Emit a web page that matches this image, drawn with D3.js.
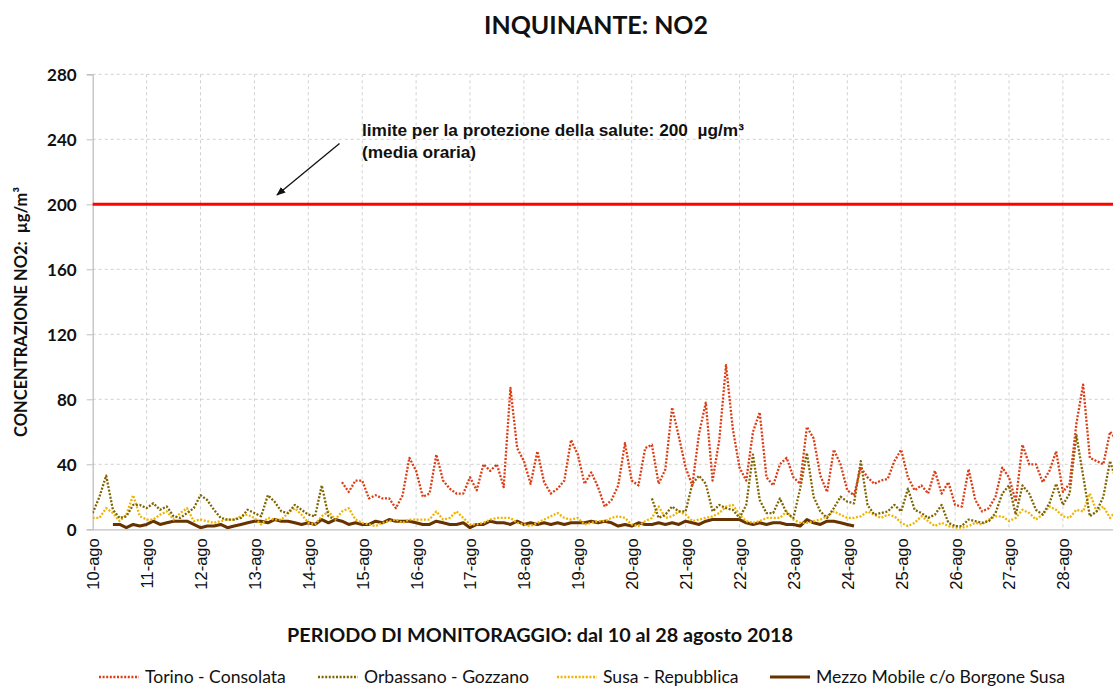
<!DOCTYPE html>
<html><head><meta charset="utf-8">
<script src="https://cdn.jsdelivr.net/npm/d3@7"></script>
<style>body{margin:0;background:#fff}svg{display:block}</style>
</head><body>
<svg id="c" width="1113" height="686"></svg>
<script>
// ---- DATA (3-hourly samples starting 10 Aug 2018 00:00; null = no data) ----
const dayLabels = ["10-ago","11-ago","12-ago","13-ago","14-ago","15-ago","16-ago","17-ago","18-ago","19-ago","20-ago","21-ago","22-ago","23-ago","24-ago","25-ago","26-ago","27-ago","28-ago"];
const yTicks = [0,40,80,120,160,200,240,280];
const seriesNames = ["Torino - Consolata","Orbassano - Gozzano","Susa - Repubblica","Mezzo Mobile c/o Borgone Susa"];
const limitValue = 200;
const torino = [
null,null,null,null,null,null,null,null,null,null,null,null,null,null,null,null,null,null,null,null,
null,null,null,null,null,null,null,null,null,null,null,null,null,null,null,null,null,
29,23,30,30,19,21,19,19,13,21,44,36,20,22,46,30,25,22,22,32,24,40,36,40,
26,87,50,42,28,48,29,22,25,30,55,46,28,35,26,14,18,27,53,30,27,50,52,28,37,75,57,38,27,59,
78,30,55,101,62,38,30,60,72,32,27,40,44,32,28,63,56,33,23,49,40,24,21,38,32,28,30,31,42,49,32,
24,27,22,36,22,29,15,14,37,18,11,13,20,38,32,17,52,40,40,29,36,48,23,28,65,89,44,42,40,60,55];
const orbassano = [
10,20,33,12,7,8,15,15,13,16,12,14,8,7,10,13,21,18,12,7,6,6,7,12,10,8,21,17,11,10,15,12,9,8,27,8,6,
null,null,null,null,null,null,null,null,null,null,null,null,null,null,null,null,null,null,null,null,null,null,null,
null,null,null,null,null,null,null,null,null,null,null,null,null,null,null,null,null,null,null,null,null,null,null,
19,7,9,14,11,11,28,33,28,11,15,13,12,7,15,46,18,10,10,19,10,7,25,47,20,11,7,13,20,17,16,42,15,9,10,11,15,11,25,
12,10,7,9,15,4,2,2,6,5,4,5,10,22,27,9,27,22,12,9,16,28,15,22,58,33,8,11,20,42,29];
const susa = [
7,7,13,10,5,9,21,8,6,6,9,11,6,10,13,5,6,5,4,5,6,6,8,9,7,3,7,6,6,10,
13,9,4,3,8,11,6,11,13,6,4,3,2,4,5,6,4,6,6,6,6,11,6,7,11,7,3,3,4,6,7,
7,7,4,3,2,4,6,8,10,7,6,7,3,4,5,5,7,8,7,3,2,5,7,14,7,8,11,9,5,6,
7,8,10,14,15,9,5,4,5,7,7,7,11,6,4,4,5,6,8,11,9,7,7,8,11,9,7,9,8,4,2,
4,8,5,2,4,2,1,1,2,4,3,6,8,8,5,7,12,10,6,9,14,12,8,7,12,11,22,11,14,7,12];
const mezzo = [
null,null,null,
3,3,1,3,2,3,5,3,4,5,5,5,3,1,2,2,3,1,2,3,4,5,5,4,6,5,5,
4,3,4,3,6,4,6,5,3,4,3,3,5,4,6,5,5,5,4,3,3,5,4,3,3,4,1,3,3,5,4,
4,3,5,3,4,3,4,3,4,3,4,4,4,5,4,5,4,2,3,2,4,3,3,4,3,4,3,5,4,3,
5,6,6,6,6,6,4,3,4,3,4,4,3,3,2,6,4,3,5,5,4,3,2];
const stepHours = 3;

// ---- LAYOUT ----
const svg = d3.select("#c");
const L = 92.7, R = 1116.8, T = 74.3, B = 529.3;
const t0 = Date.UTC(2018,7,10), t1 = Date.UTC(2018,7,29);
const x = d3.scaleUtc().domain([t0, t1]).range([L, R]);
const y = d3.scaleLinear().domain([0, 280]).range([B, T]);
const tAt = i => new Date(t0 + i*stepHours*3600e3);
const dayDates = dayLabels.map((d,i) => new Date(t0 + i*86400e3));

const labelFont = "Lato, 'Open Sans', sans-serif";
const arialFont = "'Liberation Sans', Arial, sans-serif";

function fit(sel, width){
  const n = sel.node(); const w = n.getComputedTextLength();
  const fs = parseFloat(sel.attr("font-size"));
  sel.attr("font-size", (fs*width/w).toFixed(2));
}

// grid
const g = svg.append("g");
g.selectAll(".hg").data(yTicks.filter(v=>v>0)).join("line")
  .attr("x1", L).attr("x2", R).attr("y1", d=>y(d)).attr("y2", d=>y(d))
  .attr("stroke", "#d0d0d0").attr("stroke-width", 1).attr("stroke-dasharray", "3,3");
g.selectAll(".vg").data(dayDates.slice(1).concat([new Date(t1)])).join("line")
  .attr("x1", d=>x(d)).attr("x2", d=>x(d)).attr("y1", T).attr("y2", B)
  .attr("stroke", "#d0d0d0").attr("stroke-width", 1).attr("stroke-dasharray", "3,3");

// y axis
const yAxis = d3.axisLeft(y).tickValues(yTicks).tickSize(6).tickPadding(10);
const ya = svg.append("g").attr("transform", `translate(${L},0)`).call(yAxis);
ya.select(".domain").attr("stroke", "#bfbfbf").attr("stroke-width", 1.3);
ya.selectAll(".tick line").attr("stroke", "#bfbfbf");
ya.selectAll(".tick text").attr("font-family", labelFont).attr("font-weight", "bold")
  .attr("font-size", 17).attr("fill", "#111").attr("dy", "0.36em");

// x axis
const xAxis = d3.axisBottom(x).tickValues(dayDates).tickSize(0)
  .tickFormat((d,i) => dayLabels[i]);
const xa = svg.append("g").attr("transform", `translate(0,${B})`).call(xAxis);
xa.select(".domain").attr("stroke", "#bfbfbf").attr("stroke-width", 1.3);
xa.selectAll(".tick text").attr("font-family", arialFont).attr("font-size", 16.5)
  .attr("fill", "#111").attr("text-anchor", "end")
  .attr("transform", "rotate(-90)").attr("x", -9).attr("y", 0).attr("dy", "0.36em");

// limit line
svg.append("line").attr("x1", L).attr("x2", R)
  .attr("y1", y(limitValue)).attr("y2", y(limitValue))
  .attr("stroke", "#ff0000").attr("stroke-width", 3);

// series
svg.append("clipPath").attr("id","pc").append("rect")
  .attr("x", L).attr("y", T-5).attr("width", R-L).attr("height", B-T+5);
const line = d3.line().defined(d => d != null).x((d,i) => x(tAt(i))).y(d => y(d));
const styles = [
  {data: torino, color: "#dc3c14", w: 2.3, dash: "2,1.6"},
  {data: orbassano, color: "#7f6400", w: 2.3, dash: "2,1.6"},
  {data: susa, color: "#f0b400", w: 2.3, dash: "2,1.6"},
  {data: mezzo, color: "#663300", w: 3, dash: null}
];
const sg = svg.append("g").attr("clip-path", "url(#pc)");
[3,2,1,0].forEach(k => {
  const s = styles[k];
  sg.append("path").attr("d", line(s.data)).attr("fill", "none")
    .attr("stroke", s.color).attr("stroke-width", s.w)
    .attr("stroke-dasharray", s.dash).attr("stroke-linejoin", "round");
});

// annotation
const an1 = svg.append("text").attr("x", 362).attr("y", 136).attr("font-family", arialFont)
  .attr("font-size", 16).attr("font-weight", "bold").attr("fill", "#111")
  .style("white-space", "pre")
  .text("limite per la protezione della salute: 200  µg/m³");
fit(an1, 382);
svg.append("text").attr("x", 362).attr("y", 158).attr("font-family", arialFont)
  .attr("font-size", an1.attr("font-size")).attr("font-weight", "bold").attr("fill", "#111")
  .text("(media oraria)");
svg.append("defs").append("marker").attr("id","ah").attr("viewBox","0 0 10 10")
  .attr("refX", 9).attr("refY", 5).attr("markerWidth", 7).attr("markerHeight", 7)
  .attr("orient", "auto").append("path").attr("d","M0,1 L10,5 L0,9 z").attr("fill","#111");
svg.append("line").attr("x1", 339.5).attr("y1", 143.5).attr("x2", 277).attr("y2", 195)
  .attr("stroke", "#111").attr("stroke-width", 1.3).attr("marker-end", "url(#ah)");

// titles
const title = svg.append("text").attr("x", 596).attr("y", 34).attr("text-anchor", "middle")
  .attr("font-family", labelFont).attr("font-weight", "bold").attr("font-size", 24)
  .attr("fill", "#111").text("INQUINANTE: NO2");
fit(title, 224);
const ytitle = svg.append("text").attr("transform", "translate(27,312) rotate(-90)")
  .attr("text-anchor", "middle").attr("font-family", labelFont).attr("font-weight", "bold")
  .attr("font-size", 15).attr("fill", "#111").style("white-space", "pre")
  .text("CONCENTRAZIONE NO2:  µg/m³");
fit(ytitle, 250);
const xtitle = svg.append("text").attr("x", 540).attr("y", 642).attr("text-anchor", "middle")
  .attr("font-family", labelFont).attr("font-weight", "bold").attr("font-size", 18)
  .attr("fill", "#111").text("PERIODO DI MONITORAGGIO: dal 10 al 28 agosto 2018");
fit(xtitle, 506);

// legend
const legX = [99, 318, 557, 770];
const lg = svg.append("g");
const probe = lg.append("text").attr("font-family", labelFont).attr("font-size", 16)
  .text(seriesNames[3]);
fit(probe, 249);
const legFs = probe.attr("font-size");
probe.remove();
seriesNames.forEach((n,i) => {
  const s = styles[i];
  lg.append("line").attr("x1", legX[i]).attr("x2", legX[i]+40)
    .attr("y1", 677).attr("y2", 677).attr("stroke", s.color).attr("stroke-width", s.w)
    .attr("stroke-dasharray", s.dash);
  lg.append("text").attr("x", legX[i]+46).attr("y", 683)
    .attr("font-family", labelFont).attr("font-size", legFs).attr("fill", "#111").text(n);
});
</script>
</body></html>
